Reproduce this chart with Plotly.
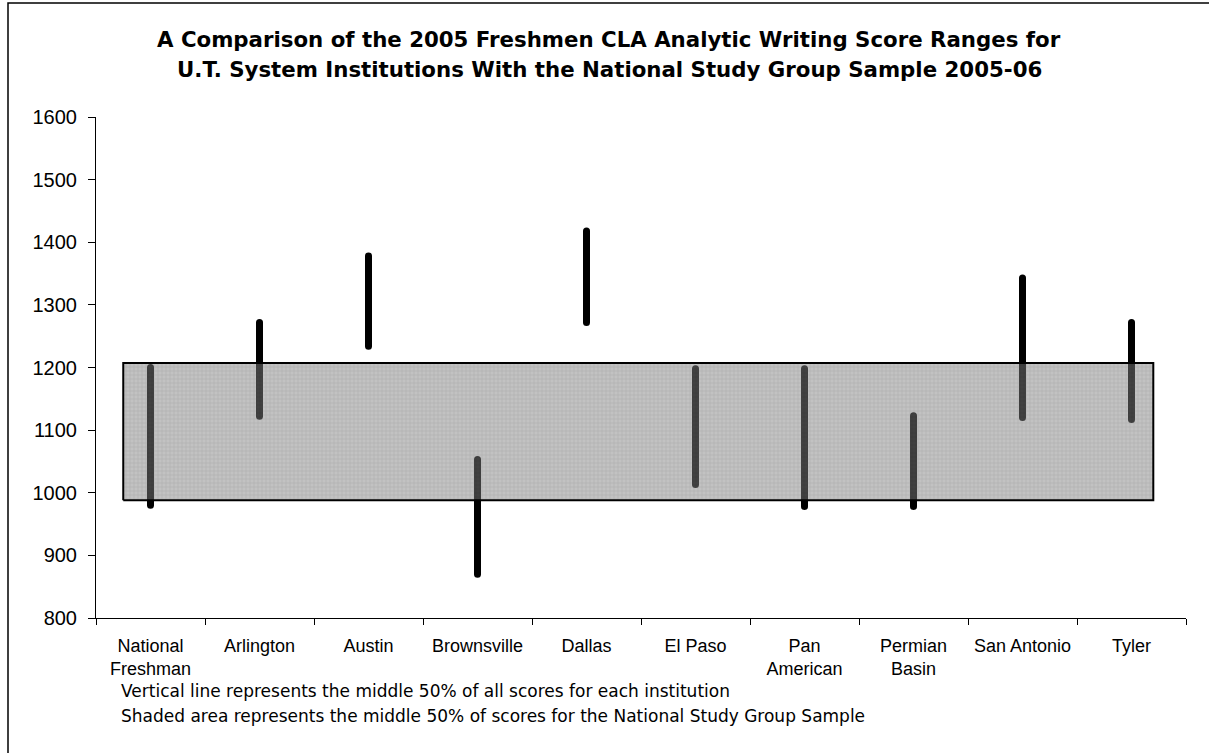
import plotly.graph_objects as go

# ---- data ----
categories = ["National<br>Freshman", "Arlington", "Austin", "Brownsville", "Dallas",
              "El Paso", "Pan<br>American", "Permian<br>Basin", "San Antonio", "Tyler"]
range_low = [980, 1122, 1234, 870, 1272, 1013, 978, 978, 1120, 1117]
range_high = [1200, 1272, 1378, 1053, 1418, 1198, 1198, 1123, 1343, 1272]
national_low = 988
national_high = 1207
y_ticks = [800, 900, 1000, 1100, 1200, 1300, 1400, 1500, 1600]
notes = ["Vertical line represents the middle 50% of all scores for each institution",
         "Shaded area represents the middle 50% of scores for the National Study Group Sample"]
title_lines = ["A Comparison of the 2005 Freshmen CLA Analytic Writing Score Ranges for",
               "U.T. System Institutions With the National Study Group Sample 2005-06"]

FONT = "Liberation Sans, Arial, sans-serif"
FONT2 = "DejaVu Sans, Verdana, sans-serif"
W, H = 1209, 753
ML, MR, MT, MB = 96, 23, 117, 135
PW, PH = W - ML - MR, H - MT - MB


def px_x(p):
    return (p - ML) / PW


def px_y(p):
    return ((H - MB) - p) / PH


idx = list(range(len(categories)))
bounds = [i - 0.5 for i in range(len(categories) + 1)]

# vertical lines (one trace with gaps)
vx, vy = [], []
for i, lo, hi in zip(idx, range_low, range_high):
    vx += [i, i, None]
    vy += [lo, hi, None]

fig = go.Figure()
fig.add_trace(go.Scatter(
    x=vx, y=vy, mode="lines+markers",
    line=dict(color="black", width=7),
    marker=dict(color="black", size=7, symbol="circle"),
    hoverinfo="skip", showlegend=False, cliponaxis=False,
))

# shaded national band
band_x0, band_x1 = -0.25, 9.2
fig.add_trace(go.Scatter(
    x=[band_x0, band_x1, band_x1, band_x0, band_x0],
    y=[national_low, national_low, national_high, national_high, national_low],
    mode="lines", fill="toself",
    fillcolor="rgba(128,128,128,0.48)",
    fillpattern=dict(shape="+", fillmode="overlay", fgcolor="rgba(90,90,90,0.45)",
                     size=4, solidity=0.25),
    line=dict(color="black", width=2),
    hoverinfo="skip", showlegend=False,
))

fig.update_layout(
    width=W, height=H,
    margin=dict(l=ML, r=MR, t=MT, b=MB),
    paper_bgcolor="white", plot_bgcolor="white",
    font=dict(family=FONT, color="black"),
    xaxis=dict(
        range=[-0.5, 9.5], showgrid=False, zeroline=False,
        showline=True, linecolor="black", linewidth=1,
        tickmode="array", tickvals=idx, ticktext=categories, ticks="",
        tickfont=dict(family=FONT, size=18, color="black"),
        ticklabelstandoff=11,
        minor=dict(tickmode="array", tickvals=bounds, ticks="outside",
                   ticklen=6, tickcolor="black", tickwidth=1, showgrid=False),
    ),
    xaxis2=dict(
        range=[-0.5, 9.5], overlaying="x", anchor="y", side="bottom",
        showgrid=False, zeroline=False, showline=False,
        tickmode="array", tickvals=bounds, ticks="inside", ticklen=6,
        tickcolor="black", showticklabels=False,
    ),
    yaxis=dict(
        range=[800, 1600], showgrid=False, zeroline=False,
        showline=True, linecolor="black", linewidth=1,
        tickmode="array", tickvals=y_ticks, ticks="outside", ticklen=7,
        tickcolor="black", tickfont=dict(family=FONT, size=20, color="black"),
        ticklabelstandoff=7,
    ),
    yaxis2=dict(
        range=[800, 1600], overlaying="y", anchor="x", side="left",
        showgrid=False, zeroline=False, showline=False,
        tickmode="array", tickvals=y_ticks, ticks="inside", ticklen=7,
        tickcolor="black", showticklabels=False,
    ),
)

# title (two lines)
for k, txt in enumerate(title_lines):
    fig.add_annotation(
        text="<b>" + txt + "</b>", xref="paper", yref="paper",
        x=px_x(609), xanchor="center", y=px_y(40 + 30 * k), yanchor="middle",
        showarrow=False, font=dict(family=FONT2, size=21.3, color="black"),
    )

# footnotes
for k, txt in enumerate(notes):
    fig.add_annotation(
        text=txt, xref="paper", yref="paper",
        x=px_x(119), xanchor="left", y=px_y(691 + 25 * k), yanchor="middle",
        showarrow=False, font=dict(family=FONT2, size=17, color="black"),
    )

# outer frame
fig.add_shape(type="rect", xref="paper", yref="paper",
              x0=px_x(8), x1=px_x(1220), y0=px_y(770), y1=px_y(3),
              line=dict(color="black", width=1.5), fillcolor="rgba(0,0,0,0)", layer="below")

fig.write_html("out.html", config={"displayModeBar": False},
               post_script="document.body.style.margin='0px';")
